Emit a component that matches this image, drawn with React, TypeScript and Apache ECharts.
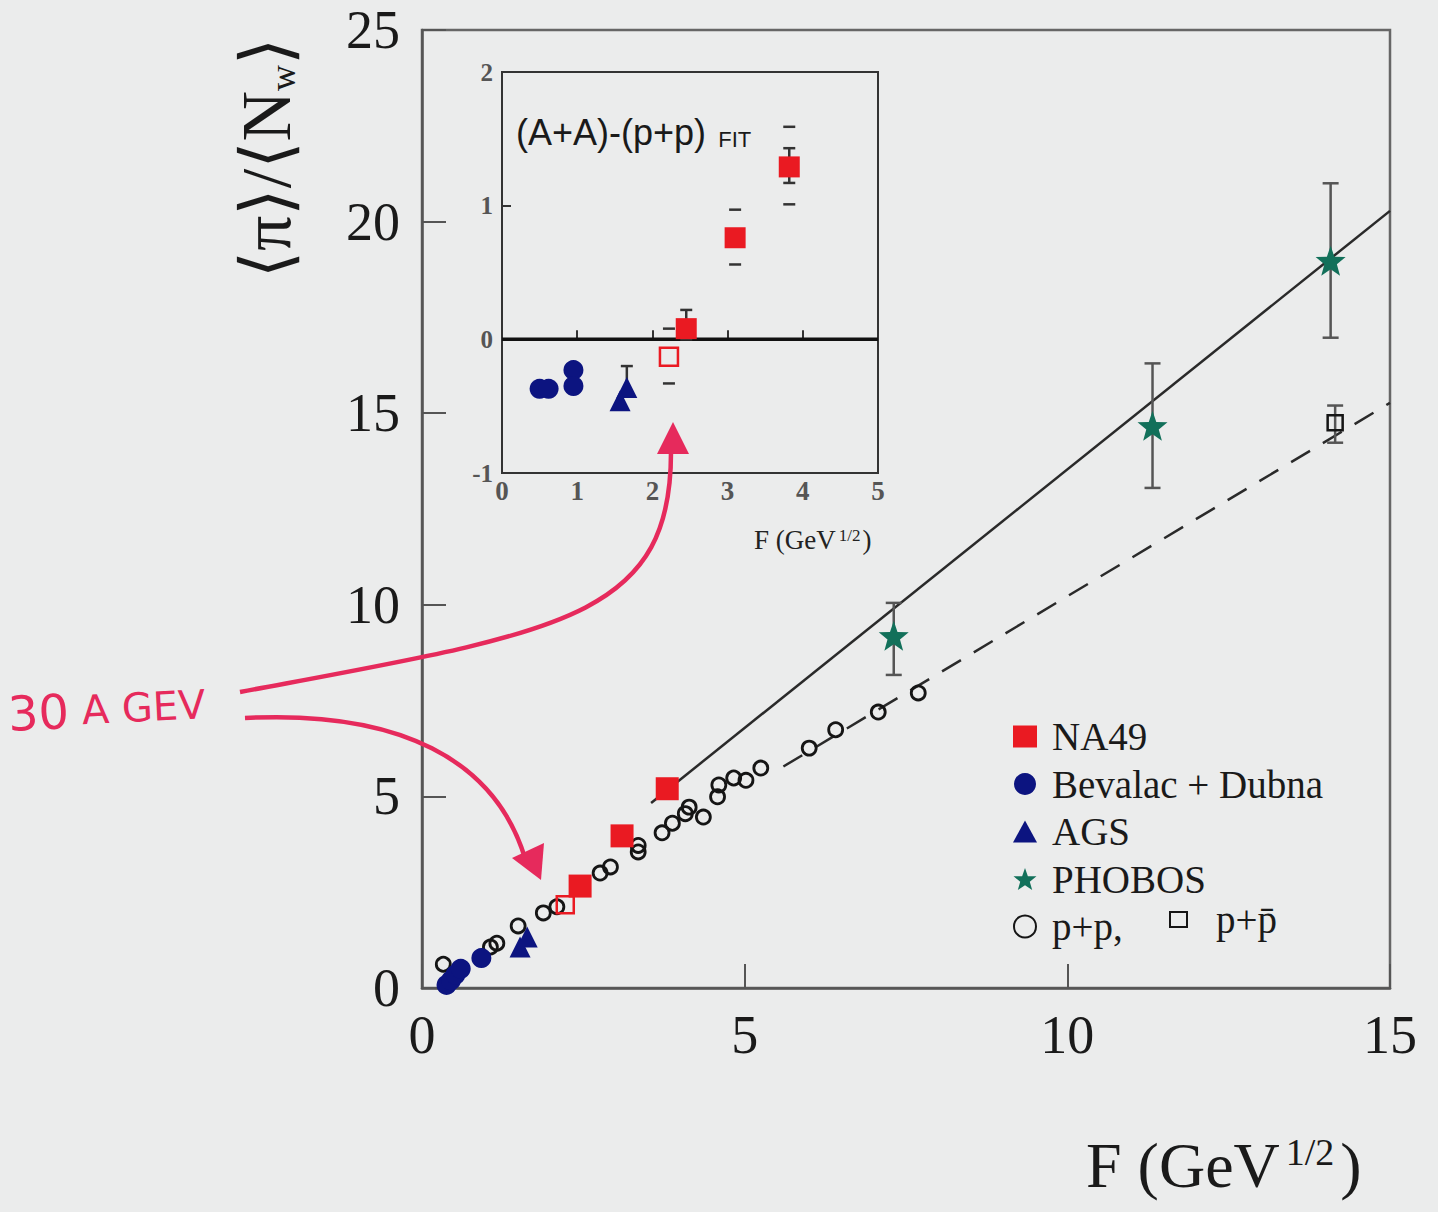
import React, { useEffect, useRef } from "react";
import * as echarts from "echarts";

const SERIF = "'Liberation Serif', 'DejaVu Serif', serif";
const SANS = "'Liberation Sans', Arial, sans-serif";
const BG = "#ebecec";
const RED = "#ea1a22";
const BLUE = "#0c1480";
const GREEN = "#12705a";
const PINK = "#e62a5c";
const STAR = "path://M50,0 L62,34 L98,35 L70,57 L80,92 L50,72 L20,92 L30,57 L2,35 L38,34 Z";

// ---- main panel data: F (GeV^1/2) vs <pi>/<Nw>
const na49 = [[2.45, 2.66], [3.1, 3.97], [3.8, 5.2]];
const na49Open = [[2.22, 2.17]];
const bevalac = [[0.38, 0.08], [0.45, 0.2], [0.52, 0.35], [0.6, 0.5], [0.92, 0.78]];
const ags = [[1.52, 1.07], [1.63, 1.33]];
const phobos = [[7.31, 9.19], [11.32, 14.67], [14.08, 18.98]];
const pp = [
  [0.33, 0.62], [1.06, 1.07], [1.16, 1.17], [1.49, 1.62], [1.88, 1.96], [2.09, 2.12],
  [2.76, 3.0], [2.92, 3.16], [3.35, 3.55], [3.35, 3.72], [3.72, 4.05], [3.88, 4.3],
  [4.08, 4.55], [4.14, 4.72], [4.36, 4.46], [4.58, 4.99], [4.6, 5.3], [4.83, 5.48],
  [5.02, 5.42], [5.25, 5.74], [6.0, 6.26], [6.41, 6.74], [7.07, 7.2], [7.69, 7.7],
];
const ppbar = [[14.15, 14.75]];
const aaFit = [[3.55, 4.83], [15, 20.28]];
const ppFit = [[5.6, 5.78], [15, 15.27]];
// [x, low, high, stem]
const mainErr = [[7.31, 8.17, 10.05, 1], [11.32, 13.05, 16.3, 1], [14.08, 16.97, 21.0, 1], [14.15, 14.23, 15.2, 1]];

// ---- inset data: (A+A)-(p+p)FIT
const inNa49 = [[2.45, 0.08], [3.1, 0.76], [3.82, 1.29]];
const inNa49Open = [[2.22, -0.13]];
const inBevalac = [[0.5, -0.37], [0.62, -0.37], [0.95, -0.23], [0.95, -0.35]];
const inAgs = [[1.66, -0.36], [1.57, -0.46]];
const inErr = [[2.45, 0.0, 0.22, 1], [3.1, 0.56, 0.97, 0], [3.82, 1.17, 1.43, 1], [3.82, 1.01, 1.59, 0], [2.22, -0.33, 0.08, 0], [1.66, -0.42, -0.2, 1]];
const zeroLine = [[0, 0], [5, 0]];

const mainTicks = [0, 5, 10, 15];
const insetTicks = [0, 1, 2, 3, 4, 5];

function errRender(capW: number, color: string, lw: number) {
  return (params: any, api: any) => {
    const x = api.value(0), lo = api.value(1), hi = api.value(2), stem = api.value(3);
    const a = api.coord([x, lo]);
    const b = api.coord([x, hi]);
    const st = { stroke: color, lineWidth: lw };
    const ch: any[] = [
      { type: "line", shape: { x1: a[0] - capW, y1: a[1], x2: a[0] + capW, y2: a[1] }, style: st },
      { type: "line", shape: { x1: b[0] - capW, y1: b[1], x2: b[0] + capW, y2: b[1] }, style: st },
    ];
    if (stem) ch.push({ type: "line", shape: { x1: a[0], y1: a[1], x2: b[0], y2: b[1] }, style: st });
    return { type: "group", children: ch };
  };
}

const filled = (c: string) => ({ color: c, opacity: 1 });
const hollow = (c: string, w: number) => ({ color: "rgba(0,0,0,0)", borderColor: c, borderWidth: w, opacity: 1 });

export default function App() {
  const ref = useRef<HTMLDivElement>(null);
  useEffect(() => {
    document.body.style.margin = "0";
    const chart = echarts.init(ref.current!, null, { renderer: "svg" });
    const axisLine = { lineStyle: { color: "#555", width: 2.5 } };
    const legendText = { fontFamily: SERIF, fontSize: 39, color: "#1a1a1a", lineHeight: 36 };
    const option: any = {
      animation: false,
      backgroundColor: BG,
      grid: [
        { left: 422, top: 30, width: 968, height: 958, show: true, borderColor: "#666", borderWidth: 2.5, backgroundColor: "transparent" },
        { left: 502, top: 72, width: 376, height: 401, show: true, borderColor: "#333", borderWidth: 2, backgroundColor: BG },
      ],
      xAxis: [
        {
          gridIndex: 0, type: "value", min: mainTicks[0], max: mainTicks[3], interval: 5,
          axisLine, axisTick: { inside: true, length: 24, lineStyle: { color: "#555", width: 2 } },
          axisLabel: { fontFamily: SERIF, fontSize: 54, color: "#1a1a1a", margin: 20 },
          splitLine: { show: false },
        },
        {
          gridIndex: 1, type: "value", min: insetTicks[0], max: insetTicks[5], interval: 1,
          axisLine: { lineStyle: { color: "#333", width: 2 } },
          axisTick: { inside: true, length: 9, lineStyle: { color: "#333", width: 2 } },
          axisLabel: { fontFamily: SERIF, fontSize: 27, fontWeight: "bold", color: "#555", margin: 4 },
          splitLine: { show: false },
        },
      ],
      yAxis: [
        {
          gridIndex: 0, type: "value", min: 0, max: 25, interval: 5,
          axisLine, axisTick: { inside: true, length: 24, lineStyle: { color: "#555", width: 2 } },
          axisLabel: { fontFamily: SERIF, fontSize: 54, color: "#1a1a1a", margin: 22 },
          splitLine: { show: false },
        },
        {
          gridIndex: 1, type: "value", min: -1, max: 2, interval: 1,
          axisLine: { lineStyle: { color: "#333", width: 2 } },
          axisTick: { inside: true, length: 9, lineStyle: { color: "#333", width: 2 } },
          axisLabel: { fontFamily: SERIF, fontSize: 25, fontWeight: "bold", color: "#555", margin: 9 },
          splitLine: { show: false },
        },
      ],
      legend: [
        {
          data: ["NA49", "Bevalac + Dubna", "AGS", "PHOBOS", "p+p,"],
          orient: "vertical", left: 1008, top: 712, itemWidth: 24, itemHeight: 22, itemGap: 8.5,
          selectedMode: false,
          textStyle: { ...legendText, padding: [0, 0, 0, 10] },
        },
        {
          data: ["p+p\u0304"],
          orient: "vertical", left: 1164, top: 895, itemWidth: 17, itemHeight: 15,
          selectedMode: false,
          textStyle: { ...legendText, padding: [0, 0, 0, 24] },
        },
      ],
      series: [
        { type: "line", name: "fitAA", data: aaFit, symbol: "none", lineStyle: { color: "#2a2a2a", width: 2.5 }, z: 1 },
        { type: "line", name: "fitpp", data: ppFit, symbol: "none", lineStyle: { color: "#2a2a2a", width: 2.5, type: [22, 15] }, z: 1 },
        { type: "custom", name: "errMain", data: mainErr, renderItem: errRender(8, "#555", 2.5), encode: { x: 0, y: [1, 2] }, clip: false, z: 2 },
        { type: "scatter", name: "p+p,", data: pp, symbol: "circle", symbolSize: 14, itemStyle: hollow("#151515", 2.8), z: 3 },
        { type: "scatter", name: "p+p\u0304", data: ppbar, symbol: "rect", symbolSize: 15, itemStyle: hollow("#151515", 2.5), z: 4 },
        { type: "scatter", name: "NA49", data: na49, symbol: "rect", symbolSize: 23, itemStyle: filled(RED), z: 5 },
        { type: "scatter", name: "NA49 30", data: na49Open, symbol: "rect", symbolSize: 17, itemStyle: hollow(RED, 2.5), z: 5 },
        { type: "scatter", name: "Bevalac + Dubna", data: bevalac, symbol: "circle", symbolSize: 20, itemStyle: filled(BLUE), z: 5 },
        { type: "scatter", name: "AGS", data: ags, symbol: "triangle", symbolSize: 21, itemStyle: filled(BLUE), z: 5 },
        { type: "scatter", name: "PHOBOS", data: phobos, symbol: STAR, symbolSize: 30, itemStyle: filled(GREEN), z: 6 },
        // inset
        { type: "line", name: "zero", xAxisIndex: 1, yAxisIndex: 1, data: zeroLine, symbol: "none", lineStyle: { color: "#111", width: 3.5 }, z: 11 },
        { type: "custom", name: "errInset", xAxisIndex: 1, yAxisIndex: 1, data: inErr, renderItem: errRender(6, "#333", 2.5), encode: { x: 0, y: [1, 2] }, clip: false, z: 12 },
        { type: "scatter", name: "inNA49", xAxisIndex: 1, yAxisIndex: 1, data: inNa49, symbol: "rect", symbolSize: 21, itemStyle: filled(RED), z: 13 },
        { type: "scatter", name: "inNA49open", xAxisIndex: 1, yAxisIndex: 1, data: inNa49Open, symbol: "rect", symbolSize: 18, itemStyle: hollow(RED, 2.5), z: 13 },
        { type: "scatter", name: "inBevalac", xAxisIndex: 1, yAxisIndex: 1, data: inBevalac, symbol: "circle", symbolSize: 20, itemStyle: filled(BLUE), z: 13 },
        { type: "scatter", name: "inAGS", xAxisIndex: 1, yAxisIndex: 1, data: inAgs, symbol: "triangle", symbolSize: 21, itemStyle: filled(BLUE), z: 13 },
      ],
      graphic: [
        {
          type: "text", x: 266, y: 158, rotation: Math.PI / 2, z: 20,
          style: {
            text: "{a|\u27E8\u03C0\u27E9/\u27E8N}{s|w}{a|\u27E9}",
            align: "center", verticalAlign: "middle",
            rich: {
              a: { fontFamily: SERIF, fontSize: 70, fill: "#1a1a1a" },
              s: { fontFamily: SERIF, fontSize: 36, fill: "#1a1a1a", verticalAlign: "bottom" },
            },
          },
        },
        {
          type: "text", x: 1086, y: 1165, z: 20,
          style: {
            text: "{a|F (GeV}{s|1/2}{a|)}",
            align: "left", verticalAlign: "middle",
            rich: {
              a: { fontFamily: SERIF, fontSize: 64, fill: "#1a1a1a" },
              s: { fontFamily: SERIF, fontSize: 38, fill: "#1a1a1a", verticalAlign: "top", padding: [0, 6, 0, 6] },
            },
          },
        },
        {
          type: "text", x: 516, y: 132, z: 20,
          style: {
            text: "{a|(A+A)-(p+p)}{s|  FIT}",
            align: "left", verticalAlign: "middle",
            rich: {
              a: { fontFamily: SANS, fontSize: 36, fill: "#1a1a1a" },
              s: { fontFamily: SANS, fontSize: 22, fill: "#1a1a1a", verticalAlign: "bottom" },
            },
          },
        },
        {
          type: "text", x: 754, y: 540, z: 20,
          style: {
            text: "{a|F (GeV}{s|1/2}{a|)}",
            align: "left", verticalAlign: "middle",
            rich: {
              a: { fontFamily: SERIF, fontSize: 27, fill: "#222" },
              s: { fontFamily: SERIF, fontSize: 17, fill: "#222", verticalAlign: "top", padding: [0, 2, 0, 3] },
            },
          },
        },
        {
          type: "text", x: 8, y: 714, rotation: 0.05, z: 20,
          style: {
            text: "{b|30}{c| A}{d| GEV}",
            align: "left", verticalAlign: "middle",
            rich: {
              b: { fontFamily: "'DejaVu Sans', sans-serif", fontSize: 48, fill: PINK },
              c: { fontFamily: "'DejaVu Sans', sans-serif", fontSize: 40, fill: PINK },
              d: { fontFamily: "'DejaVu Sans', sans-serif", fontSize: 40, fill: PINK },
            },
          },
        },
        {
          type: "bezierCurve", z: 19,
          shape: { x1: 240, y1: 692, cpx1: 560, cpy1: 632, cpx2: 672, cpy2: 620, x2: 671, y2: 450 },
          style: { stroke: PINK, lineWidth: 4.5, fill: null },
        },
        { type: "polygon", z: 19, shape: { points: [[673, 422], [657, 454], [689, 454]] }, style: { fill: PINK } },
        {
          type: "bezierCurve", z: 19,
          shape: { x1: 245, y1: 718, cpx1: 400, cpy1: 710, cpx2: 495, cpy2: 760, x2: 525, y2: 858 },
          style: { stroke: PINK, lineWidth: 4.5, fill: null },
        },
        { type: "polygon", z: 19, shape: { points: [[541, 880], [512, 858], [544, 843]] }, style: { fill: PINK } },
      ],
    };
    chart.setOption(option);
    return () => chart.dispose();
  }, []);
  return <div ref={ref} style={{ width: 1438, height: 1212 }} />;
}
